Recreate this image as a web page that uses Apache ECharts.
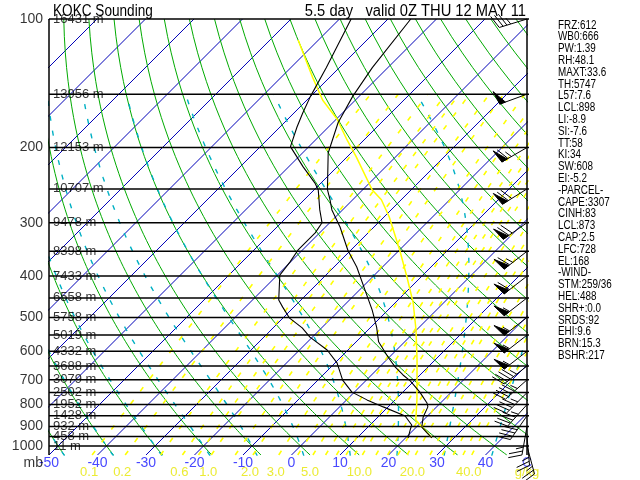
<!DOCTYPE html>
<html><head><meta charset="utf-8">
<script src="https://cdn.jsdelivr.net/npm/echarts@6/dist/echarts.min.js"></script>
<style>html,body{margin:0;padding:0;background:#fff}#c{width:640px;height:480px}</style>
</head><body><div id="c"></div>
<script>
// ---------------- data ----------------
const levels   = [100,150,200,250,300,350,400,450,500,550,600,650,700,750,800,850,900,950,1000];
const heights  = [16431,13956,12153,10707,9478,8398,7433,6558,5758,5019,4332,3688,3079,2502,1952,1428,932,458,11];
const pressureLabels = [100,200,300,400,500,600,700,800,900,1000];

const tempP = [100,130,152,175,206,251,265,280,307,348,381,431,480,527,570,619,653,682,704,748,793,810,855,903,932,957];
const tempT = [-65.3,-63.2,-61.3,-58.9,-54.7,-47.3,-44.7,-42.2,-37.0,-30.6,-25.3,-18.9,-13.3,-8.8,-5.4,-0.3,3.2,6.5,9.2,13.5,17.2,18.2,19.3,21.1,23.4,25.4];

const dewP = [100,130,152,166,179,199,222,242,251,280,300,317,348,371,398,455,473,502,529,556,596,639,701,748,780,810,851,893,917,957];
const dewT = [-77.6,-72.7,-70.0,-68.2,-66.5,-63.8,-57.0,-51.3,-49.2,-44.7,-41.6,-40.9,-40.9,-40.1,-39.5,-34.6,-32.3,-28.6,-24.0,-20.5,-14.3,-9.6,-4.9,-0.5,4.2,9.0,15.4,18.6,19.3,20.5];

const parcelP = [112,137,155,172,192,210,251,265,291,348,402,462,535,629,780,869,957];
const parcelT = [-84.2,-73.5,-66.7,-59.7,-53.5,-48.2,-38.1,-34.1,-28.9,-19.9,-12.9,-6.3,-0.1,6.3,14.5,18.4,25.4];

const windDir = [253,250,240,238,235,232,232,232,232,232,232,232,228,225,222,215,190,175,165];
const windSpd = [35,50,65,70,70,65,60,55,55,55,55,45,45,45,45,40,25,25,25];

const isotherms    = [-140,-130,-120,-110,-100,-90,-80,-70,-60,-50,-40,-30,-20,-10,0,10,20,30,40];
const dryAdiabats  = [-50,-40,-30,-20,-10,0,10,20,30,40,50,60,70,80,90,100,110,120,130,140,150,160,170];
const moistAdiabats= [-50,-40,-30,-20,-10,0,10,20,30,40];
const mixingRatios = [0.1,0.2,0.4,0.6,0.8,1,1.5,2,3,4,5,6,7,8,9,10,12,14,16,18,20,24,28,32,36,40];
const mixingLabels = [0.1,0.2,0.6,1.0,2.0,3.0,5.0,10.0,20.0,40.0];
const tempTicks    = [-50,-40,-30,-20,-10,0,10,20,30,40];

const statLines = ['FRZ:612','WB0:666','PW:1.39','RH:48.1','MAXT:33.6','TH:5747','L57:7.6','LCL:898','LI:-8.9','SI:-7.6','TT:58','KI:34','SW:608','EI:-5.2','-PARCEL-','CAPE:3307','CINH:83','LCL:873','CAP:2.5','LFC:728','EL:168','-WIND-','STM:259/36','HEL:488','SHR+:0.0','SRDS:92','EHI:9.6','BRN:15.3','BSHR:217'];
const titleLeft  = 'KOKC Sounding';
const titleRight = '5.5 day   valid 0Z THU 12 MAY 11';

// ---------------- skew-T geometry ----------------
const X_MIN = -50, X_MAX = 48.56, P_TOP = 100, P_BOT = 1050;
const K = 88.03; // 45 degree skew
const skew = p => K * Math.log10(P_BOT / p);
const FONT = '"Liberation Sans", Arial, sans-serif';

function dTdp(p, T) {
  const es = 6.112 * Math.exp(17.67 * (T - 273.15) / (T - 29.65));
  const rs = 0.622 * es / (p - es);
  return (287 * T + 2.5e6 * rs) / (1005 + 2.5e6 * 2.5e6 * rs * 0.622 / (287 * T * T)) / p;
}
function rk(p, T, dp) { const k1 = dTdp(p, T); const k2 = dTdp(p + dp / 2, T + k1 * dp / 2); return T + k2 * dp; }

const series = [];
function addLine(data, color, width, dash, clip, z) {
  series.push({type: 'line', data, symbol: 'none', silent: true, clip: clip !== false, z: z || 2,
    lineStyle: {color, width, type: dash || 'solid'}});
}
// isotherms
isotherms.forEach(T => addLine([[T, P_BOT], [T + skew(P_TOP), P_TOP]], '#0000b8', 1));
// dry adiabats
dryAdiabats.forEach(th => {
  const d = [];
  for (let p = P_TOP; p <= P_BOT; p += 10) { const T = (th + 273.15) * Math.pow(p / 1000, 0.2857) - 273.15; d.push([T + skew(p), p]); }
  addLine(d, '#00aa00', 1);
});
// moist adiabats
moistAdiabats.forEach(tw => {
  const up = []; let T = tw + 273.15;
  for (let p = 1000; p >= 150; p -= 5) { up.push([T - 273.15 + skew(p), p]); T = rk(p, T, -5); }
  const dn = []; T = tw + 273.15;
  for (let p = 1000; p <= P_BOT; p += 5) { T = rk(p, T, 5); dn.push([T - 273.15 + skew(p + 5), p + 5]); }
  addLine(dn.reverse().concat(up), '#00b0c4', 1.4, [5, 10]);
});
// mixing ratio lines
function mixT(w, p) { const e = w * p / (622 + w); const l = Math.log(e / 6.112); return 243.5 * l / (17.67 - l); }
mixingRatios.forEach(w => {
  const d = [];
  for (let p = P_BOT; p >= 150; p -= 10) d.push([mixT(w, p) + skew(p), p]);
  addLine(d, '#ffff00', 1.6, [5, 11]);
});
// pressure lines and borders
levels.forEach(p => addLine([[X_MIN, p], [X_MAX + 1.25, p]], '#000', 1.5, 'solid', false, 4));
addLine([[X_MIN, P_TOP], [X_MIN, P_BOT]], '#000', 1.5, 'solid', false, 4);
addLine([[X_MAX, P_TOP], [X_MAX, P_BOT]], '#000', 1.5, 'solid', false, 4);
// parcel, temperature, dewpoint
addLine(parcelP.map((p, i) => [parcelT[i] + skew(p), p]), '#ffff00', 1.5, 'solid', true, 5);
addLine(tempP.map((p, i) => [tempT[i] + skew(p), p]), '#000', 1.1, 'solid', true, 6);
addLine(dewP.map((p, i) => [dewT[i] + skew(p), p]), '#000', 1.1, 'solid', true, 6);

// labels
function labelSeries(data, label) {
  series.push({type: 'scatter', data, symbolSize: 0, silent: true, z: 8, clip: false,
    itemStyle: {color: 'transparent'},
    label: Object.assign({show: true, formatter: d => d.value[2], fontFamily: FONT, color: '#000'}, label)});
}
labelSeries(pressureLabels.map(p => [X_MIN, p, String(p)]), {position: 'left', distance: 6, fontSize: 14});
labelSeries(levels.map((p, i) => [X_MIN, p, heights[i] + ' m']), {position: 'right', distance: 4, fontSize: 13});
labelSeries([[X_MIN, P_BOT, 'mb']], {position: 'left', distance: 6, fontSize: 14, offset: [0, 8]});
labelSeries([[X_MAX, P_BOT, 'C']], {position: 'bottom', distance: 1, fontSize: 14, color: '#4848ff'});
labelSeries(mixingLabels.map(w => [mixT(w, P_BOT), P_BOT, w.toFixed(1)]), {position: 'bottom', distance: 11, fontSize: 13, color: '#e6e600', offset: [-3, 0]});
labelSeries([[X_MAX, P_BOT, 'g/kg']], {position: 'bottom', distance: 11, fontSize: 13, color: '#e6e600'});

// wind barbs
series.push({
  type: 'custom', z: 9, clip: false, silent: true,
  data: levels.map((p, i) => [X_MAX, p, windDir[i], windSpd[i]]),
  renderItem: function (params, api) {
    const b = api.coord([api.value(0), api.value(1)]);
    const rad = api.value(2) * Math.PI / 180;
    const u = [Math.sin(rad), -Math.cos(rad)], n = [-u[1], u[0]];
    const L = 29;
    const pt = s => [b[0] + u[0] * s, b[1] + u[1] * s];
    const st = {stroke: '#000', lineWidth: 1};
    const ch = [{type: 'line', shape: {x1: b[0], y1: b[1], x2: b[0] + u[0] * L, y2: b[1] + u[1] * L}, style: st}];
    let v = Math.round(api.value(3) / 5) * 5, s = L;
    while (v >= 50) {
      const a = pt(s), c = pt(s - 6);
      ch.push({type: 'polygon', shape: {points: [a, c, [a[0] + n[0] * 14 + u[0] * 2, a[1] + n[1] * 14 + u[1] * 2]]}, style: {fill: '#000', stroke: '#000', lineWidth: 1}});
      s -= 7; v -= 50;
    }
    while (v >= 10) {
      const a = pt(s);
      ch.push({type: 'line', shape: {x1: a[0], y1: a[1], x2: a[0] + n[0] * 13 + u[0] * 5, y2: a[1] + n[1] * 13 + u[1] * 5}, style: st});
      s -= 4; v -= 10;
    }
    if (v >= 5) {
      if (s === L) s -= 4;
      const a = pt(s);
      ch.push({type: 'line', shape: {x1: a[0], y1: a[1], x2: a[0] + n[0] * 7 + u[0] * 3, y2: a[1] + n[1] * 7 + u[1] * 3}, style: st});
    }
    return {type: 'group', children: ch};
  }
});

const graphic = [
  {type: 'text', x: 53, y: 12, scaleX: 0.85, style: {text: titleLeft, font: '16px ' + FONT, fill: '#000', verticalAlign: 'middle'}},
  {type: 'text', x: 526, y: 12, scaleX: 0.92, style: {text: titleRight, font: '16px ' + FONT, fill: '#000', align: 'right', verticalAlign: 'middle'}}
];
statLines.forEach((t, i) => graphic.push({type: 'text', x: 558, y: 25 + i * 11.8, scaleX: 0.76,
  style: {text: t, font: '13px ' + FONT, fill: '#000', verticalAlign: 'middle'}}));

const chart = echarts.init(document.getElementById('c'), null, {renderer: 'canvas'});
chart.setOption({
  animation: false,
  backgroundColor: '#fff',
  grid: {left: 49, top: 19, width: 478, height: 436, show: false},
  xAxis: {type: 'value', min: X_MIN, max: X_MAX, interval: 10,
    axisLine: {show: false}, axisTick: {show: false}, splitLine: {show: false},
    axisLabel: {margin: 1, fontSize: 14, fontFamily: FONT, color: '#4848ff',
      formatter: v => tempTicks.indexOf(v) >= 0 ? String(v) : ''}},
  yAxis: {type: 'log', logBase: 10, min: P_TOP, max: P_BOT, inverse: true,
    axisLine: {show: false}, axisTick: {show: false}, splitLine: {show: false}, axisLabel: {show: false}},
  graphic,
  series
});
</script></body></html>
